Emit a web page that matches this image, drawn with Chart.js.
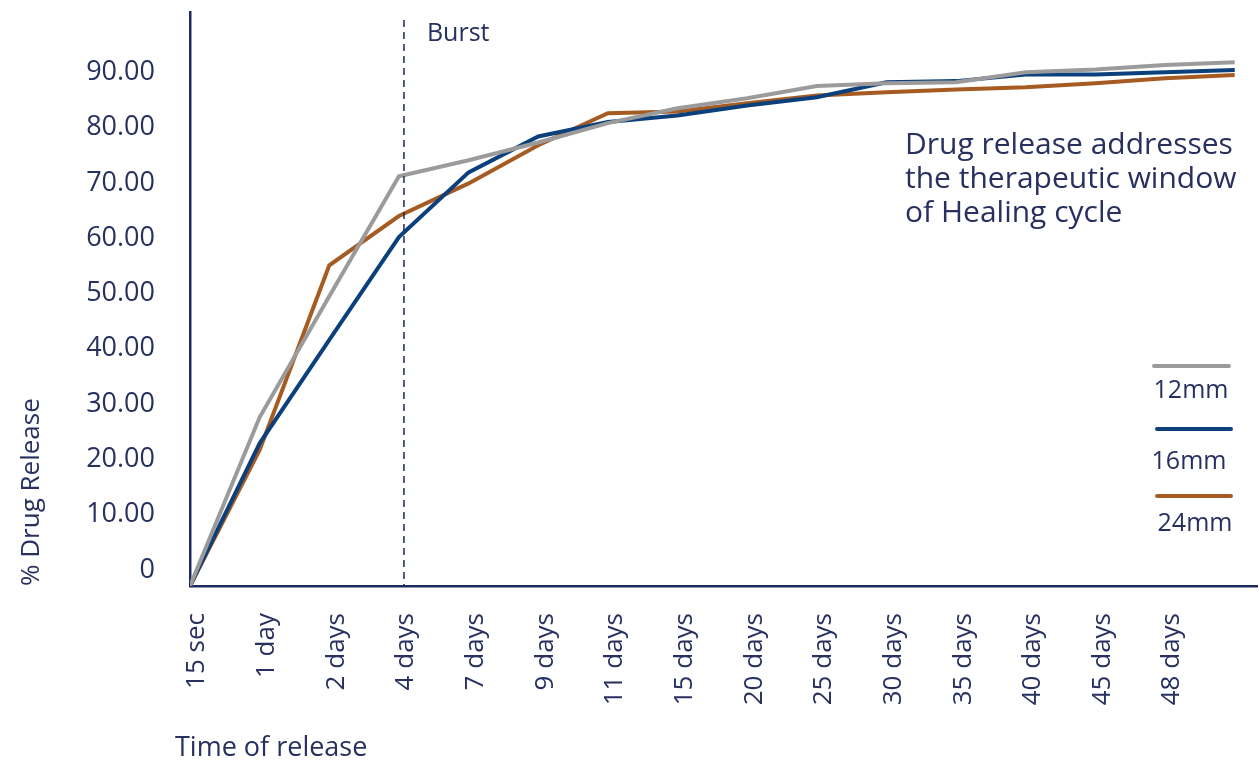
<!DOCTYPE html>
<html><head><meta charset="utf-8">
<script src="https://cdn.jsdelivr.net/npm/chart.js@4"></script>
<style>html,body{margin:0;padding:0;background:#fff;} canvas{display:block;}</style>
</head><body>
<canvas id="c" width="1259" height="761"></canvas>
<script>
// ---- data ----
const timeLabels = ['15 sec','1 day','2 days','4 days','7 days','9 days','11 days','15 days','20 days','25 days','30 days','35 days','40 days','45 days','48 days'];
const release12mm = [0, 30.5, 52.4, 74.1, 77.0, 80.2, 83.7, 86.4, 88.2, 90.4, 90.9, 91.1, 92.9, 93.4, 94.2, 94.7];
const release16mm = [0, 25.8, 44.5, 63.1, 74.8, 81.3, 83.9, 85.1, 86.9, 88.4, 91.1, 91.3, 92.5, 92.5, 92.9, 93.3];
const release24mm = [0, 24.6, 58.0, 66.9, 72.8, 79.7, 85.5, 85.8, 87.3, 88.7, 89.3, 89.8, 90.2, 90.9, 91.8, 92.4];
const seriesNames = ['12mm','16mm','24mm'];
const yTickValues = [0,10,20,30,40,50,60,70,80,90];
const burstIndex = 3;
const burstLabel = 'Burst';
const noteLines = ['Drug release addresses','the therapeutic window','of Healing cycle'];
const xTitle = 'Time of release';
const yTitle = '% Drug Release';

// ---- styles ----
const NAVY = '#27305f';
const AXIS = '#1e2a5e';
const colors = ['#9b9b9b', '#0b407c', '#a65b22'];
const FONT = '"Open Sans"';

const toPoints = arr => arr.map((v, i) => ({x: i, y: v}));
const seriesData = [release12mm, release16mm, release24mm];

const annotations = {
  id: 'annotations',
  afterDraw(chart) {
    const {ctx, chartArea, scales} = chart;
    ctx.save();
    // burst dashed line
    const bx = scales.x.getPixelForValue(burstIndex) + 5;
    ctx.strokeStyle = AXIS;
    ctx.lineWidth = 1.5;
    ctx.setLineDash([7, 5]);
    ctx.beginPath();
    ctx.moveTo(bx, 20);
    ctx.lineTo(bx, chartArea.bottom);
    ctx.stroke();
    ctx.setLineDash([]);
    ctx.fillStyle = NAVY;
    ctx.font = '25px ' + FONT;
    ctx.textAlign = 'left';
    ctx.textBaseline = 'middle';
    ctx.fillText(burstLabel, bx + 23, 34);
    // note
    ctx.font = '30px ' + FONT;
    noteLines.forEach((t, i) => ctx.fillText(t, 905, 145 + i * 34));
    // x title
    ctx.font = '27px ' + FONT;
    ctx.fillText(xTitle, 175, 748);
    // legend
    const legendY = [366, 429, 496];
    const legendX = [[1154, 1229], [1157, 1231], [1157, 1231]];
    const textY = [391, 462, 524];
    const textX = [1191, 1189, 1195];
    ctx.lineCap = 'round';
    ctx.lineWidth = 4;
    chart.data.datasets.forEach((ds, i) => {
      ctx.strokeStyle = ds.borderColor;
      ctx.beginPath();
      ctx.moveTo(legendX[i][0], legendY[i]);
      ctx.lineTo(legendX[i][1], legendY[i]);
      ctx.stroke();
      ctx.fillStyle = NAVY;
      ctx.font = '25px ' + FONT;
      ctx.textAlign = 'center';
      ctx.fillText(ds.label, textX[i], textY[i]);
    });
    ctx.restore();
  }
};

new Chart(document.getElementById('c'), {
  type: 'line',
  data: {
    datasets: seriesNames.map((name, i) => ({
      label: name,
      data: toPoints(seriesData[i]),
      borderColor: colors[i],
      backgroundColor: colors[i],
      borderWidth: 4,
      pointRadius: 0,
      tension: 0,
      fill: false
    }))
  },
  options: {
    responsive: false,
    devicePixelRatio: 1,
    animation: false,
    layout: {padding: {top: 12, right: 2, left: 0, bottom: 0}},
    plugins: {legend: {display: false}, tooltip: {enabled: false}},
    scales: {
      x: {
        type: 'linear',
        min: 0,
        max: 15.32,
        grid: {display: false},
        border: {display: true, color: AXIS, width: 2.5},
        afterBuildTicks: s => { s.ticks = timeLabels.map((_, i) => ({value: i})); },
        afterFit: s => { s.height = 175; s.paddingLeft = 0; s.paddingRight = 0; s.paddingTop = 0; s.paddingBottom = 0; },
        ticks: {
          autoSkip: false,
          minRotation: 90,
          maxRotation: 90,
          padding: 19,
          labelOffset: 7,
          color: NAVY,
          font: {family: 'Open Sans', size: 26},
          callback: v => timeLabels[v]
        }
      },
      y: {
        min: 0,
        max: 103.8,
        grid: {display: false},
        border: {display: true, color: AXIS, width: 2.5},
        afterBuildTicks: s => { s.ticks = yTickValues.map(v => ({value: v})); },
        afterFit: s => { s.width = 190; s.paddingTop = 0; s.paddingBottom = 0; s.paddingLeft = 0; s.paddingRight = 0; },
        ticks: {
          padding: 27,
          labelOffset: -16,
          color: NAVY,
          font: {family: 'Open Sans', size: 27},
          callback: v => v === 0 ? '0' : v.toFixed(2)
        },
        title: {
          display: true,
          text: yTitle,
          align: 'start',
          color: NAVY,
          font: {family: 'Open Sans', size: 26},
          padding: {top: 16, bottom: 0}
        }
      }
    }
  },
  plugins: [annotations]
});
</script>
</body></html>
